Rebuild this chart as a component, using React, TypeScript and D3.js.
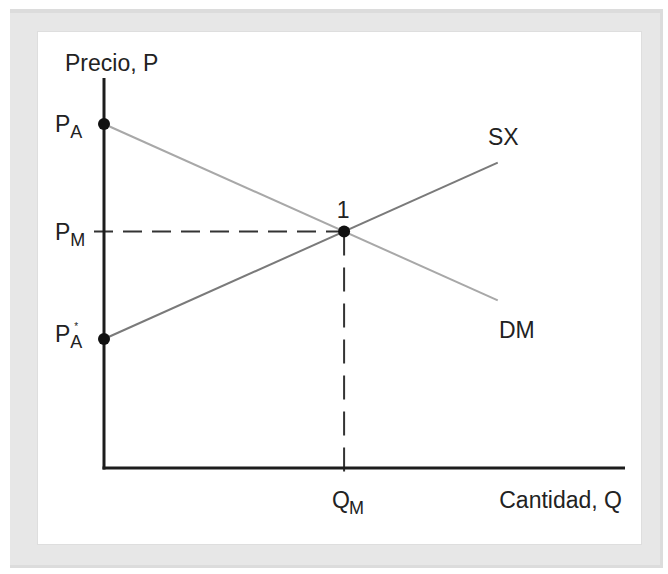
import { useEffect, useRef } from 'react'
import * as d3 from 'd3'

// prices on the vertical axis
const priceLevels = [
  { key: 'PA', value: 8, sub: 'A', star: false },
  { key: 'PM', value: 5.5, sub: 'M', star: false },
  { key: 'PAs', value: 3, sub: 'A', star: true },
]
const eqQ = 5
const eqP = 5.5
const dmLine = [[0, 8], [8.2, 3.9]]
const sxLine = [[0, 3], [8.2, 7.1]]
const xMax = 10.85
const yMax = 9.07

const W = 668
const H = 574
const FONT = '"Liberation Sans", Arial, Helvetica, sans-serif'

export default function App() {
  const svgRef = useRef<SVGSVGElement>(null)

  useEffect(() => {
    if (!svgRef.current) return
    const svg = d3.select(svgRef.current)
    svg.selectAll('*').remove()

    // frame
    svg.append('rect').attr('x', 10).attr('y', 9).attr('width', 653).attr('height', 559).attr('fill', '#dcdcdc')
    svg.append('rect').attr('x', 10).attr('y', 13).attr('width', 650).attr('height', 552).attr('fill', '#e7e7e7')
    svg.append('rect').attr('x', 37).attr('y', 31).attr('width', 605).attr('height', 514).attr('fill', '#dedede')
    svg.append('rect').attr('x', 38).attr('y', 32).attr('width', 603).attr('height', 512).attr('fill', '#fff')

    const x = d3.scaleLinear().domain([0, xMax]).range([104, 625])
    const y = d3.scaleLinear().domain([0, yMax]).range([468, 78])

    const g = svg.append('g')

    // dashed guides
    g.append('line')
      .attr('x1', x(0) - 10).attr('x2', x(eqQ)).attr('y1', y(eqP)).attr('y2', y(eqP))
      .attr('stroke', '#333').attr('stroke-width', 2).attr('stroke-dasharray', '19,10')
    g.append('line')
      .attr('x1', x(eqQ)).attr('x2', x(eqQ)).attr('y1', y(eqP)).attr('y2', y(0) + 9)
      .attr('stroke', '#333').attr('stroke-width', 2).attr('stroke-dasharray', '24,12')

    const line = d3.line<number[]>().x(d => x(d[0])).y(d => y(d[1]))
    g.append('path').attr('d', line(dmLine)).attr('fill', 'none').attr('stroke', '#a8a8a8').attr('stroke-width', 2)
    g.append('path').attr('d', line(sxLine)).attr('fill', 'none').attr('stroke', '#7a7a7a').attr('stroke-width', 2)

    // axes
    g.append('line').attr('x1', x(0)).attr('x2', x(0)).attr('y1', y(yMax)).attr('y2', y(0) + 1.5)
      .attr('stroke', '#1c1c1c').attr('stroke-width', 3)
    g.append('line').attr('x1', x(0) - 1.5).attr('x2', x(xMax)).attr('y1', y(0)).attr('y2', y(0))
      .attr('stroke', '#1c1c1c').attr('stroke-width', 3)

    // points
    const pts = [[0, 8], [0, 3], [eqQ, eqP]]
    pts.forEach(p => {
      g.append('circle').attr('cx', x(p[0])).attr('cy', y(p[1])).attr('r', 6).attr('fill', '#111')
    })

    const txt = (px: number, py: number, s: string, anchor = 'start') =>
      g.append('text').attr('x', px).attr('y', py).attr('font-family', FONT).attr('font-size', 23)
        .attr('fill', '#222').attr('text-anchor', anchor).text(s)

    txt(65, 71, 'Precio, P')
    txt(622, 508, 'Cantidad, Q', 'end')
    txt(488, 145, 'SX')
    txt(499, 338, 'DM')
    txt(x(eqQ) - 1, 218, '1', 'middle')

    // y-axis price labels with subscripts
    priceLevels.forEach(p => {
      const base = y(p.value) + (p.star ? 3 : 8)
      const t = g.append('text').attr('x', 55).attr('y', base)
        .attr('font-family', FONT).attr('font-size', 23).attr('fill', '#222')
      t.append('tspan').text('P')
      t.append('tspan').attr('font-size', 18).attr('dy', 6).text(p.sub)
      if (p.star) {
        t.append('tspan').attr('font-size', 10).attr('dx', -8).attr('dy', -18).text('*')
      }
    })

    // Q_M label
    const q = g.append('text').attr('x', x(eqQ) - 12).attr('y', 508)
      .attr('font-family', FONT).attr('font-size', 23).attr('fill', '#222')
    q.append('tspan').text('Q')
    q.append('tspan').attr('font-size', 18).attr('dy', 6).attr('dx', -1).text('M')
  }, [])

  return (
    <svg ref={svgRef} width={W} height={H} style={{ position: 'absolute', left: 0, top: 0, background: '#fff' }} />
  )
}
